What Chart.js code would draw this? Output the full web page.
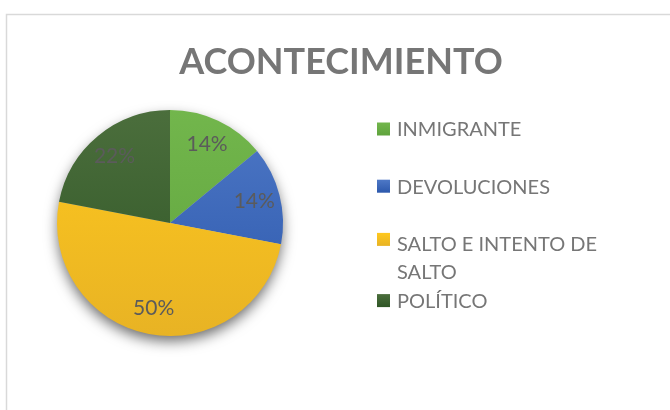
<!DOCTYPE html>
<html>
<head>
<meta charset="utf-8">
<script src="https://cdn.jsdelivr.net/npm/chart.js@4.4.1/dist/chart.umd.min.js"></script>
<style>
  html, body { margin: 0; padding: 0; background: #ffffff; }
  #wrap { position: relative; width: 670px; height: 410px; }
  canvas { display: block; }
</style>
</head>
<body>
<div id="wrap"><canvas id="c" width="670" height="410"></canvas></div>
<script>
// ---- data ----
const chartTitle = 'ACONTECIMIENTO';
const categories = ['INMIGRANTE', 'DEVOLUCIONES', 'SALTO E INTENTO DE SALTO', 'POLÍTICO'];
const values = [14, 14, 50, 22];

// ---- styles ----
const topColors = ['#72B64C', '#4E78C6', '#FFC81E', '#4B6E3C'];
const bottomColors = ['#5FA33D', '#2C58AC', '#E8B324', '#2F5626'];
const baseColors = ['#6AB046', '#3F68B9', '#FFC000', '#3D6230'];
const textGrey = '#767676';
const labelGrey = '#5b5b5b';

function sliceFill(ctx) {
  const chart = ctx.chart;
  const area = chart.chartArea;
  const i = ctx.dataIndex;
  if (!area) return baseColors[i];
  const g = chart.ctx.createLinearGradient(0, area.top, 0, area.bottom);
  g.addColorStop(0, topColors[i]);
  g.addColorStop(1, bottomColors[i]);
  return g;
}

const decorPlugin = {
  id: 'decor',
  beforeDraw(chart) {
    const ctx = chart.ctx;
    ctx.save();
    ctx.strokeStyle = '#d9d9d9';
    ctx.lineWidth = 1.5;
    ctx.beginPath();
    ctx.moveTo(6.5, 410);
    ctx.lineTo(6.5, 14.5);
    ctx.lineTo(670, 14.5);
    ctx.stroke();
    // title
    ctx.fillStyle = textGrey;
    ctx.font = 'bold 36px Lato';
    ctx.textAlign = 'center';
    ctx.textBaseline = 'middle';
    ctx.fillText(chartTitle, 341, 62);
    ctx.restore();
  },
  beforeDatasetsDraw(chart) {
    const arcs = chart.getDatasetMeta(0).data;
    if (!arcs.length) return;
    const a = arcs[0];
    const ctx = chart.ctx;
    ctx.save();
    ctx.shadowColor = 'rgba(0,0,0,0.6)';
    ctx.shadowBlur = 14;
    ctx.shadowOffsetY = 6;
    ctx.fillStyle = '#bbbbbb';
    ctx.beginPath();
    ctx.arc(a.x, a.y, a.outerRadius - 1, 0, Math.PI * 2);
    ctx.fill();
    ctx.restore();
  },
  afterDatasetsDraw(chart) {
    const ctx = chart.ctx;
    const meta = chart.getDatasetMeta(0);
    const data = chart.data.datasets[0].data;
    const total = data.reduce((s, v) => s + v, 0);
    ctx.save();
    ctx.fillStyle = labelGrey;
    ctx.font = '21px Lato';
    ctx.textAlign = 'center';
    ctx.textBaseline = 'middle';
    meta.data.forEach((arc, i) => {
      const mid = (arc.startAngle + arc.endAngle) / 2;
      const r = arc.outerRadius * 0.77;
      const x = arc.x + Math.cos(mid) * r;
      const y = arc.y + Math.sin(mid) * r;
      ctx.fillText(Math.round(data[i] / total * 100) + '%', x, y);
    });
    // legend
    ctx.font = '20px Lato';
    ctx.textAlign = 'left';
    ctx.textBaseline = 'middle';
    const maxW = 240;
    categories.forEach((lab, i) => {
      const cy = 129 + i * 57.2;
      const words = lab.split(' ');
      const lines = [];
      let cur = '';
      words.forEach(w => {
        const t = cur ? cur + ' ' + w : w;
        if (ctx.measureText(t).width > maxW && cur) { lines.push(cur); cur = w; }
        else cur = t;
      });
      if (cur) lines.push(cur);
      const sqY = lines.length > 1 ? cy - 4 : cy;
      const g = ctx.createLinearGradient(0, sqY - 6.5, 0, sqY + 6.5);
      g.addColorStop(0, topColors[i]);
      g.addColorStop(1, bottomColors[i]);
      ctx.fillStyle = g;
      ctx.fillRect(377, sqY - 6.5, 13, 13);
      ctx.fillStyle = textGrey;
      lines.forEach((ln, k) => ctx.fillText(ln, 397, cy + 1 + k * 28.5));
    });
    ctx.restore();
  }
};

new Chart(document.getElementById('c'), {
  type: 'pie',
  data: {
    labels: categories,
    datasets: [{
      data: values,
      backgroundColor: sliceFill,
      borderWidth: 0,
      hoverOffset: 0
    }]
  },
  options: {
    responsive: false,
    animation: false,
    events: [],
    layout: { padding: { left: 57, right: 387, top: 110, bottom: 74 } },
    plugins: {
      legend: { display: false },
      title: { display: false },
      tooltip: { enabled: false }
    }
  },
  plugins: [decorPlugin]
});
</script>
</body>
</html>
